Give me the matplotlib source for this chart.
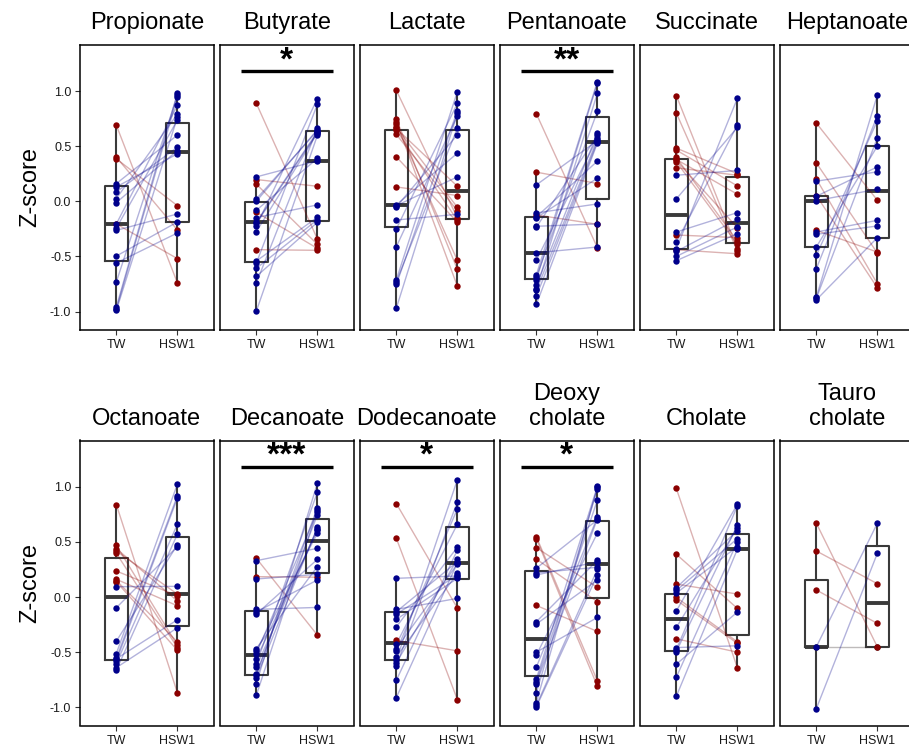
import matplotlib
matplotlib.use("Agg")
import matplotlib.pyplot as plt

plt.rcParams['font.family'] = ['Liberation Sans', 'DejaVu Sans']

groups = ["TW", "HSW1"]

titles = ["Propionate", "Butyrate", "Lactate", "Pentanoate", "Succinate", "Heptanoate",
          "Octanoate", "Decanoate", "Dodecanoate", "Deoxy\ncholate", "Cholate", "Tauro\ncholate"]

# Paired z-scores per subject: element i of *_tw pairs with element i of *_hsw1
propionate_tw = [0.69, 0.40, 0.385, -0.206, 0.16, 0.085, 0.025, -0.012, -0.206, 0.13,
                 -0.243, -0.264, -0.497, -0.56, -0.733, -0.96, -0.979, -0.99]
propionate_hsw1 = [-0.74, -0.26, -0.04, -0.52, 0.60, 0.49, 0.79, 0.46, 0.87, 0.43,
                   0.736, -0.115, -0.188, -0.288, 0.96, 0.98, 0.945, 0.76]

butyrate_tw = [0.888, 0.197, 0.155, -0.10, -0.439, 0.221, 0.021, -0.082, -0.148, -0.224,
               -0.276, -0.542, -0.561, -0.609, -0.682, -0.742, -0.997, -0.20, -0.19, 0.0]
butyrate_hsw1 = [-0.342, 0.136, -0.391, -0.427, -0.445, 0.367, 0.640, 0.388, -0.033, 0.930,
                 0.618, -0.145, 0.879, -0.167, -0.191, 0.661, 0.597, 0.62, 0.63, 0.65]

lactate_tw = [1.006, 0.745, 0.721, 0.697, 0.670, 0.66, 0.645, 0.606, 0.403, 0.130,
              -0.033, -0.04, -0.05, -0.17, -0.251, -0.412, -0.712, -0.73, -0.755, -0.97]
lactate_hsw1 = [-0.15, -0.618, -0.77, -0.536, -0.055, 0.136, -0.173, -0.085, -0.19, 0.052,
                0.436, 0.221, 0.603, -0.118, 0.888, 0.776, 0.994, 0.664, 0.821, 0.797]

pentanoate_tw = [0.794, 0.264, -0.124, 0.148, -0.106, -0.142, -0.15, -0.227, -0.235, -0.467,
                 -0.536, -0.667, -0.688, -0.712, -0.764, -0.794, -0.809, -0.861, -0.936]
pentanoate_hsw1 = [-0.421, 0.161, -0.209, 0.55, -0.024, 0.364, 0.209, -0.206, 0.597, -0.415,
                   0.573, 1.085, 0.815, 1.07, 0.618, 0.979, 0.56, 0.54, 0.527]

succinate_tw = [0.958, 0.80, 0.482, 0.464, 0.397, 0.379, 0.37, 0.358, 0.303, -0.306, -0.44,
                0.236, 0.021, -0.279, -0.373, -0.43, -0.455, -0.5, -0.539]
succinate_hsw1 = [-0.43, -0.45, 0.251, 0.139, -0.36, 0.064, -0.24, -0.391, 0.236, -0.33, -0.476,
                  0.279, 0.67, -0.103, 0.691, 0.933, -0.164, -0.233, -0.294]

heptanoate_tw = [0.709, 0.348, 0.203, 0.052, -0.264, 0.182, 0.045, 0.006, -0.279, -0.30,
                 -0.415, -0.491, -0.612, -0.87, -0.88, -0.894]
heptanoate_hsw1 = [0.009, -0.47, -0.748, -0.785, -0.461, 0.267, 0.312, 0.109, -0.173, -0.224,
                   0.5, 0.73, 0.776, 0.964, 0.576, -0.33]

octanoate_tw = [0.839, 0.47, 0.44, 0.418, 0.397, 0.236, 0.161, 0.15, 0.139,
                0.094, -0.097, -0.4, -0.512, -0.555, -0.56, -0.579, -0.603, -0.64, -0.664]
octanoate_hsw1 = [-0.867, -0.436, -0.036, 0.027, -0.458, 0.012, -0.079, -0.406, -0.482,
                  0.097, 0.458, 0.473, 1.024, 0.918, -0.206, 0.897, 0.661, -0.279, 0.57]

decanoate_tw = [0.352, 0.185, 0.33, 0.164, -0.112, -0.135, -0.155, -0.467, -0.488, -0.512,
                -0.558, -0.609, -0.633, -0.694, -0.709, -0.73, -0.785, -0.891]
decanoate_hsw1 = [-0.345, 0.18, 0.442, 0.206, -0.094, 0.155, 0.342, 0.276, 0.579, 0.776,
                  0.609, 0.951, 0.62, 0.745, 0.812, 0.633, 1.033, 0.79]

dodecanoate_tw = [0.848, 0.533, -0.394, 0.17, -0.112, -0.133, -0.155, -0.203, -0.27, -0.427,
                  -0.467, -0.49, -0.542, -0.573, -0.597, -0.624, -0.755, -0.912]
dodecanoate_hsw1 = [-0.1, -0.93, -0.488, 0.191, -0.012, 0.321, 0.2, 0.17, 0.452, 0.661,
                    0.3, 0.8, 0.215, 1.064, 0.342, 0.864, 0.427, 0.31]

deoxycholate_tw = [0.548, 0.53, 0.448, 0.345, -0.076, 0.261, 0.22, 0.2, -0.224, -0.245,
                   -0.5, -0.527, -0.636, -0.742, -0.767, -0.785, -0.867, -0.958, -0.982, -0.997]
deoxycholate_hsw1 = [-0.76, -0.809, 0.088, -0.042, -0.312, 0.7, 0.27, 0.32, 0.333, 0.155,
                     -0.185, 0.579, 0.724, 1.003, 0.879, 0.71, 0.982, 0.995, 0.25, 0.2]

cholate_tw = [0.985, 0.388, 0.118, -0.003, -0.027, -0.379, 0.085, 0.06, 0.036, -0.127,
              -0.276, -0.458, -0.476, -0.494, -0.609, -0.727, -0.9]
cholate_hsw1 = [-0.642, -0.103, 0.027, -0.406, -0.42, -0.5, 0.603, 0.53, 0.458, 0.842,
                0.63, -0.442, 0.827, 0.652, -0.136, 0.503, 0.433]

taurocholate_tw = [-0.452, 0.67, 0.418, 0.064, -0.452, -1.012]
taurocholate_hsw1 = [-0.452, -0.452, 0.121, -0.239, 0.67, 0.397]

# Box summaries per group: [lower whisker, Q1, median, Q3, upper whisker] for TW, HSW1
propionate_box = [[-0.99, -0.545, -0.206, 0.137, 0.69], [-0.742, -0.188, 0.443, 0.709, 0.98]]
butyrate_box = [[-0.997, -0.555, -0.188, -0.003, 0.221], [-0.445, -0.182, 0.367, 0.639, 0.93]]
lactate_box = [[-0.97, -0.23, -0.033, 0.642, 1.006], [-0.77, -0.158, 0.091, 0.648, 0.994]]
pentanoate_box = [[-0.936, -0.709, -0.467, -0.139, 0.264], [-0.421, 0.021, 0.539, 0.764, 1.085]]
succinate_box = [[-0.539, -0.436, -0.127, 0.382, 0.958], [-0.476, -0.379, -0.197, 0.218, 0.933]]
heptanoate_box = [[-0.894, -0.415, 0.006, 0.048, 0.709], [-0.785, -0.33, 0.091, 0.5, 0.964]]
octanoate_box = [[-0.664, -0.573, 0.003, 0.358, 0.839], [-0.867, -0.258, 0.027, 0.543, 1.024]]
decanoate_box = [[-0.891, -0.706, -0.524, -0.127, 0.352], [-0.345, 0.215, 0.512, 0.712, 1.033]]
dodecanoate_box = [[-0.912, -0.57, -0.418, -0.139, 0.17], [-0.93, 0.164, 0.309, 0.633, 1.064]]
deoxycholate_box = [[-0.997, -0.718, -0.379, 0.236, 0.548], [-0.809, -0.009, 0.3, 0.694, 1.003]]
cholate_box = [[-0.9, -0.485, -0.203, 0.03, 0.388], [-0.642, -0.345, 0.436, 0.576, 0.842]]
taurocholate_box = [[-1.012, -0.452, -0.452, 0.152, 0.67], [-0.452, -0.452, -0.057, 0.467, 0.67]]

significance = ["", "*", "", "**", "", "", "", "***", "*", "*", "", ""]

panels = [
    (propionate_tw, propionate_hsw1, propionate_box),
    (butyrate_tw, butyrate_hsw1, butyrate_box),
    (lactate_tw, lactate_hsw1, lactate_box),
    (pentanoate_tw, pentanoate_hsw1, pentanoate_box),
    (succinate_tw, succinate_hsw1, succinate_box),
    (heptanoate_tw, heptanoate_hsw1, heptanoate_box),
    (octanoate_tw, octanoate_hsw1, octanoate_box),
    (decanoate_tw, decanoate_hsw1, decanoate_box),
    (dodecanoate_tw, dodecanoate_hsw1, dodecanoate_box),
    (deoxycholate_tw, deoxycholate_hsw1, deoxycholate_box),
    (cholate_tw, cholate_hsw1, cholate_box),
    (taurocholate_tw, taurocholate_hsw1, taurocholate_box),
]

UP = "#00008B"
DOWN = "#8B0000"
SAME = "#2a2020"
BOX = "#3a3a3a"

W, H = 909, 752
fig = plt.figure(figsize=(W / 100, H / 100), dpi=100)

panel_w = 134.3
row_top = [44.7, 440.5]
panel_h = 285.0
xpos = [1, 2]
sig_y = 1.18


def direction_colour(a, b):
    if b > a:
        return UP
    if b < a:
        return DOWN
    return SAME


for k, (tw, hsw, box) in enumerate(panels):
    row, col = divmod(k, 6)
    left = 79.7 + 140.0 * col
    top = row_top[row]
    ax = fig.add_axes([left / W, 1 - (top + panel_h) / H, panel_w / W, panel_h / H])
    ax.set_xlim(0.4, 2.6)
    ax.set_ylim(-1.165, 1.42)

    stats = []
    for g, b in enumerate(box):
        stats.append(dict(whislo=b[0], q1=b[1], med=b[2], q3=b[3], whishi=b[4],
                          fliers=[], label=groups[g]))
    ax.bxp(stats, positions=xpos, widths=0.38, showcaps=False, showfliers=False,
           patch_artist=False,
           boxprops=dict(color=BOX, linewidth=1.5),
           whiskerprops=dict(color=BOX, linewidth=1.5),
           medianprops=dict(color=BOX, linewidth=2.8),
           manage_ticks=False, zorder=2)

    for a, b in zip(tw, hsw):
        ax.plot(xpos, [a, b], color=direction_colour(a, b), alpha=0.3, linewidth=1.0,
                zorder=3)
    for a, b in zip(tw, hsw):
        c = direction_colour(a, b)
        ax.plot(xpos, [a, b], linestyle="none", marker="o", markersize=4.6,
                markerfacecolor=c, markeredgecolor=c, markeredgewidth=0, zorder=4)

    if significance[k]:
        ax.plot([0.75, 2.25], [sig_y, sig_y], color="black", linewidth=2.4,
                solid_capstyle="butt", zorder=5)
        ax.annotate(significance[k], xy=(1.5, sig_y), xycoords="data",
                    xytext=(0, 1.5), textcoords="offset points",
                    ha="center", va="baseline", fontsize=24, fontweight="bold",
                    zorder=5)

    ax.annotate(titles[k], xy=(0.5, 1.0), xycoords="axes fraction",
                xytext=(0, 7.5), textcoords="offset points",
                ha="center", va="bottom", fontsize=17, linespacing=1.2)

    for s in ax.spines.values():
        s.set_linewidth(1.1)
        s.set_color("black")

    ax.set_xticks(xpos)
    ax.set_xticklabels(groups, fontsize=9)
    ax.tick_params(axis="x", length=3.5, width=0.8, pad=3, colors="#333333",
                   labelcolor="#1a1a1a")
    if col == 0:
        ax.set_yticks([-1.0, -0.5, 0.0, 0.5, 1.0])
        ax.set_yticklabels(["-1.0", "-0.5", "0.0", "0.5", "1.0"], fontsize=9)
        ax.tick_params(axis="y", length=3.5, width=0.8, pad=2.5, colors="#333333",
                       labelcolor="#1a1a1a")
    else:
        ax.set_yticks([])

for row in range(2):
    yc = row_top[row] + panel_h / 2
    fig.text(30 / W, 1 - yc / H, "Z-score", rotation=90, ha="center", va="center",
             fontsize=17)

fig.savefig("out.png", dpi=100)
